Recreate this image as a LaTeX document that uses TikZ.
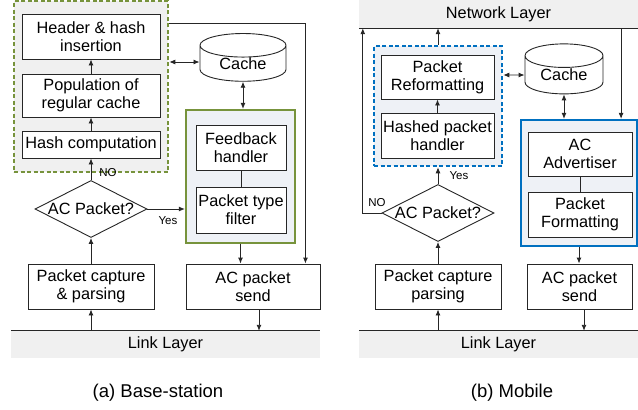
\documentclass[tikz,border=0pt]{standalone}
\usepackage{fontspec}
\setmainfont{Liberation Sans}
\usetikzlibrary{arrows.meta,shapes.geometric,calc}

\definecolor{olivegrn}{HTML}{77933C}
\definecolor{acblue}{HTML}{0070C0}
\definecolor{bandgray}{HTML}{F0F0F0}
\definecolor{paleblue}{HTML}{EEF1F6}
\definecolor{linegray}{HTML}{262626}

\newcommand{\boxfont}{\fontsize{16.3}{18.3}\selectfont}
\tikzset{
  block/.style={rectangle,draw=linegray,line width=0.9pt,fill=white,align=center,
    inner sep=0pt,font=\boxfont},
  cachedb/.style={cylinder,shape border rotate=90,aspect=0.5,draw=linegray,
    line width=0.9pt,fill=white,inner sep=0pt,font=\boxfont},
  decision/.style={diamond,aspect=2,draw=linegray,line width=0.9pt,fill=white,
    inner sep=0pt,minimum width=112pt,minimum height=57pt,font=\boxfont},
  band/.style={rectangle,fill=bandgray,inner sep=0pt,font=\boxfont},
  grpdash/.style={rectangle,dash pattern=on 4pt off 2.5pt,line width=2.6pt},
  grpsolid/.style={rectangle,line width=2.2pt,fill=paleblue},
  tag/.style={font=\fontsize{11.5}{12}\selectfont,inner sep=1pt},
  capt/.style={font=\fontsize{18.5}{20}\selectfont},
  flow/.style={->,line width=0.9pt,draw=linegray},
  twoway/.style={<->,line width=0.9pt,draw=linegray}
}

\begin{document}
\begin{tikzpicture}[x=1pt,y=-1pt,>={Latex[length=6pt,width=5pt]}]
\useasboundingbox (0,0) rectangle (638,410);

%%%% (a) base station
%link layer
\node[band,minimum width=309pt,minimum height=27pt] (linkA) at (165.5,344.5) {Link Layer};
\draw[line width=0.9pt,linegray] (linkA.north west) -- (linkA.north east);
%regular cache path
\node[grpdash,draw=olivegrn,fill=bandgray,minimum width=154pt,minimum height=171pt] (grpA) at (91,86.5) {};
\node[block,minimum width=138pt,minimum height=45pt] (hdrA) at (91,36.5) {Header \& hash\\insertion};
\node[block,minimum width=138pt,minimum height=43pt] (popA) at (91,95.5) {Population of\\regular cache};
\node[block,minimum width=138pt,minimum height=27pt] (hashA) at (91,144.5) {Hash computation};
%cache
\node[cachedb,minimum width=86pt,minimum height=47pt] (cacheA) at (243,63.5) {Cache};
%ac path
\node[grpsolid,draw=olivegrn,minimum width=109pt,minimum height=133pt] (grnA) at (240.5,176.5) {};
\node[block,minimum width=90pt,minimum height=45pt] (fbA) at (241,147.5) {Feedback\\handler};
\node[block,minimum width=90pt,minimum height=46pt] (ptfA) at (241,210) {Packet type\\filter};
%decision and io
\node[decision] (decA) at (91,209) {AC Packet?};
\node[block,minimum width=126pt,minimum height=45pt] (capA) at (91,286.5) {Packet capture\\\& parsing};
\node[block,minimum width=134pt,minimum height=45pt] (sendA) at (253,286.5) {AC packet\\send};
%arrows
\draw[flow] (linkA.north -| capA) -- (capA);
\draw[flow] (capA) -- (decA);
\draw[flow] (decA) -- (hashA);
\draw[flow] (hashA) -- (popA);
\draw[flow] (popA) -- (hdrA);
\draw[flow] (decA.east) -- (decA.east -| grnA.west);
\draw[twoway] (grpA.east |- 0,62) -- (cacheA.west |- 0,62);
\draw[twoway] (cacheA.south) -- (cacheA.south |- grnA.north);
\draw[line width=0.9pt,linegray] (fbA) -- (ptfA);
\draw[flow] (grnA.south) -- (grnA.south |- sendA.north);
\draw[flow] ([yshift=-24pt]grpA.north east) -| ([xshift=-15pt]sendA.north east);
\draw[flow] ([xshift=6pt]sendA.south) -- ([xshift=6pt]sendA.south |- linkA.north);
\node[tag] (noA) at (108,173) {NO};
\node[tag] (yesA) at (168,221) {Yes};
\node[capt] (captA) at (158,393) {(a) Base-station};

%%%% (b) mobile
\node[band,minimum width=279pt,minimum height=28pt] (netB) at (498.5,14) {Network Layer};
\draw[line width=0.9pt,linegray] (netB.south west) -- (netB.south east);
\node[band,minimum width=279pt,minimum height=27pt] (linkB) at (498.5,344.5) {Link Layer};
\draw[line width=0.9pt,linegray] (linkB.north west) -- (linkB.north east);
%hashed packet path
\node[grpdash,draw=acblue,fill=paleblue,minimum width=128pt,minimum height=120pt] (grpB) at (438,106) {};
\node[block,minimum width=113pt,minimum height=44pt] (refB) at (437.5,77) {Packet\\Reformatting};
\node[block,minimum width=113pt,minimum height=45pt] (hphB) at (437.5,135.5) {Hashed packet\\handler};
%cache
\node[cachedb,minimum width=78pt,minimum height=50pt] (cacheB) at (564,75) {Cache};
%advertiser
\node[grpsolid,draw=acblue,minimum width=116pt,minimum height=126pt] (grnB) at (579,183) {};
\node[block,minimum width=104pt,minimum height=44pt] (advB) at (580,154) {AC\\Advertiser};
\node[block,minimum width=104pt,minimum height=45pt] (fmtB) at (580,214.5) {Packet\\Formatting};
%decision and io
\node[decision] (decB) at (438,213) {AC Packet?};
\node[block,minimum width=126pt,minimum height=45pt] (capB) at (438,286.5) {Packet capture\\parsing};
\node[block,minimum width=105pt,minimum height=45pt] (sendB) at (579.5,286.5) {AC packet\\send};
%arrows
\draw[flow] (linkB.north -| capB) -- (capB);
\draw[flow] (capB) -- (decB);
\draw[flow] (decB) -- (decB |- grpB.south);
\draw[flow] (hphB) -- (refB);
\draw[flow] (grpB.north) -- (grpB.north |- netB.south);
\draw[flow] (decB.west) -| ([xshift=4pt]netB.south west);
\draw[twoway] (grpB.east |- cacheB) -- (cacheB.west);
\draw[twoway] (cacheB.south) -- (cacheB.south |- grnB.north);
\draw[line width=0.9pt,linegray] (advB) -- (fmtB);
\draw[flow] ([xshift=-17pt]grnB.north east |- netB.south) -- ([xshift=-17pt]grnB.north east);
\draw[flow] (grnB.south) -- (grnB.south |- sendB.north);
\draw[flow] ([xshift=4.5pt]sendB.south) -- ([xshift=4.5pt]sendB.south |- linkB.north);
\node[tag] (noB) at (377,203) {NO};
\node[tag] (yesB) at (459,176) {Yes};
\node[capt] (captB) at (512,393) {(b) Mobile};
\end{tikzpicture}
\end{document}
